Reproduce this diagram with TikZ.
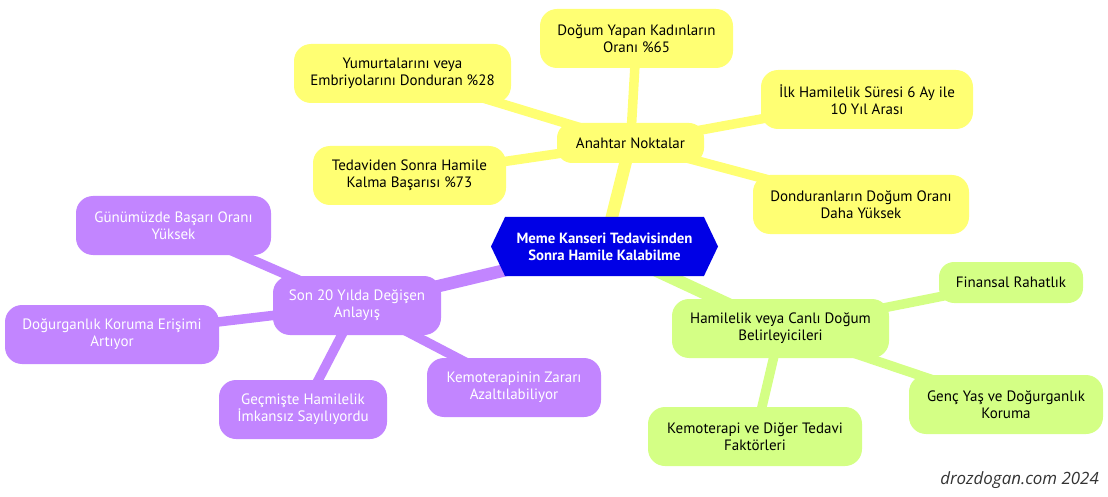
\documentclass[tikz,border=0pt]{standalone}
\usepackage{fontspec}
\setmainfont{PT Sans}
\newfontfamily\markfont{Open Sans}
\usetikzlibrary{shapes.symbols,backgrounds}
\definecolor{rootblue}{HTML}{0000E6}
\definecolor{leafyellow}{HTML}{FFFF73}
\definecolor{leafgreen}{HTML}{D4FF85}
\definecolor{leafpurple}{HTML}{C285FF}
\tikzset{
    x=1pt,y=-1pt,
    leaf/.style={rounded corners=17pt,align=center,font=\fontsize{15}{17}\selectfont,inner sep=0pt},
    yellowleaf/.style={leaf,fill=leafyellow},
    greenleaf/.style={leaf,fill=leafgreen},
    purpleleaf/.style={leaf,fill=leafpurple,text=white},
    rootedge/.style={line width=12.5pt},
    leafedge/.style={line width=9.5pt}
}
\begin{document}
\begin{tikzpicture}
    \useasboundingbox (0,0) rectangle (1108,497);
    \node [signal,signal to=east and west,signal pointer angle=129,fill=rootblue,text=white,
        minimum width=227pt,minimum height=59pt,inner sep=0pt,align=center,
        font=\fontsize{14.8}{17}\selectfont\bfseries] (root) at (604.5,246.5)
        {Meme Kanseri Tedavisinden\\Sonra Hamile Kalabilme};
    % yellow branch
    \node [yellowleaf,rounded corners=15pt,minimum width=147pt,minimum height=40pt] (keypoints) at (630.5,143) {Anahtar Noktalar};
    \node [yellowleaf,minimum width=193pt,minimum height=59pt] (birthrate) at (636.5,38.5) {Doğum Yapan Kadınların\\Oranı \%65};
    \node [yellowleaf,minimum width=217pt,minimum height=59pt] (frozen) at (402.5,73.5) {Yumurtalarını veya\\Embriyolarını Donduran \%28};
    \node [yellowleaf,minimum width=212pt,minimum height=59pt] (firstpreg) at (867,99.5) {İlk Hamilelik Süresi 6 Ay ile\\10 Yıl Arası};
    \node [yellowleaf,minimum width=193pt,minimum height=59pt] (success) at (409.5,175.5) {Tedaviden Sonra Hamile\\Kalma Başarısı \%73};
    \node [yellowleaf,minimum width=216pt,minimum height=59pt] (higher) at (861,204.5) {Donduranların Doğum Oranı\\Daha Yüksek};
    % green branch
    \node [greenleaf,minimum width=217pt,minimum height=59pt] (factors) at (780.5,328.5) {Hamilelik veya Canlı Doğum\\Belirleyicileri};
    \node [greenleaf,rounded corners=15pt,minimum width=144pt,minimum height=41pt] (finance) at (1011,282.5) {Finansal Rahatlık};
    \node [greenleaf,minimum width=194pt,minimum height=59pt] (young) at (1006,404.5) {Genç Yaş ve Doğurganlık\\Koruma};
    \node [greenleaf,minimum width=214pt,minimum height=59pt] (chemo) at (755,436.5) {Kemoterapi ve Diğer Tedavi\\Faktörleri};
    % purple branch
    \node [purpleleaf,minimum width=168pt,minimum height=59pt] (changing) at (357,305.5) {Son 20 Yılda Değişen\\Anlayış};
    \node [purpleleaf,minimum width=195pt,minimum height=59pt] (today) at (173.5,225.5) {Günümüzde Başarı Oranı\\Yüksek};
    \node [purpleleaf,minimum width=214pt,minimum height=59pt] (access) at (112,334.5) {Doğurganlık Koruma Erişimi\\Artıyor};
    \node [purpleleaf,minimum width=168pt,minimum height=59pt] (past) at (303,409.5) {Geçmişte Hamilelik\\İmkansız Sayılıyordu};
    \node [purpleleaf,minimum width=174pt,minimum height=59pt] (harm) at (514,387.5) {Kemoterapinin Zararı\\Azaltılabiliyor};
    \node [anchor=east,font=\markfont\itshape\fontsize{16.9}{19}\selectfont,text=black!80,inner sep=0pt] (mark) at (1099,480) {drozdogan.com 2024};
    \begin{scope}[on background layer]
        \draw [rootedge,leafyellow] (root.center) -- (keypoints.center);
        \draw [rootedge,leafgreen] (root.center) -- (factors.center);
        \draw [rootedge,leafpurple] (root.center) -- (changing.center);
        \foreach \leafname in {birthrate,frozen,firstpreg,success,higher}
            \draw [leafedge,leafyellow] (keypoints.center) -- (\leafname.center);
        \foreach \leafname in {finance,young,chemo}
            \draw [leafedge,leafgreen] (factors.center) -- (\leafname.center);
        \foreach \leafname in {today,access,past,harm}
            \draw [leafedge,leafpurple] (changing.center) -- (\leafname.center);
    \end{scope}
\end{tikzpicture}
\end{document}
